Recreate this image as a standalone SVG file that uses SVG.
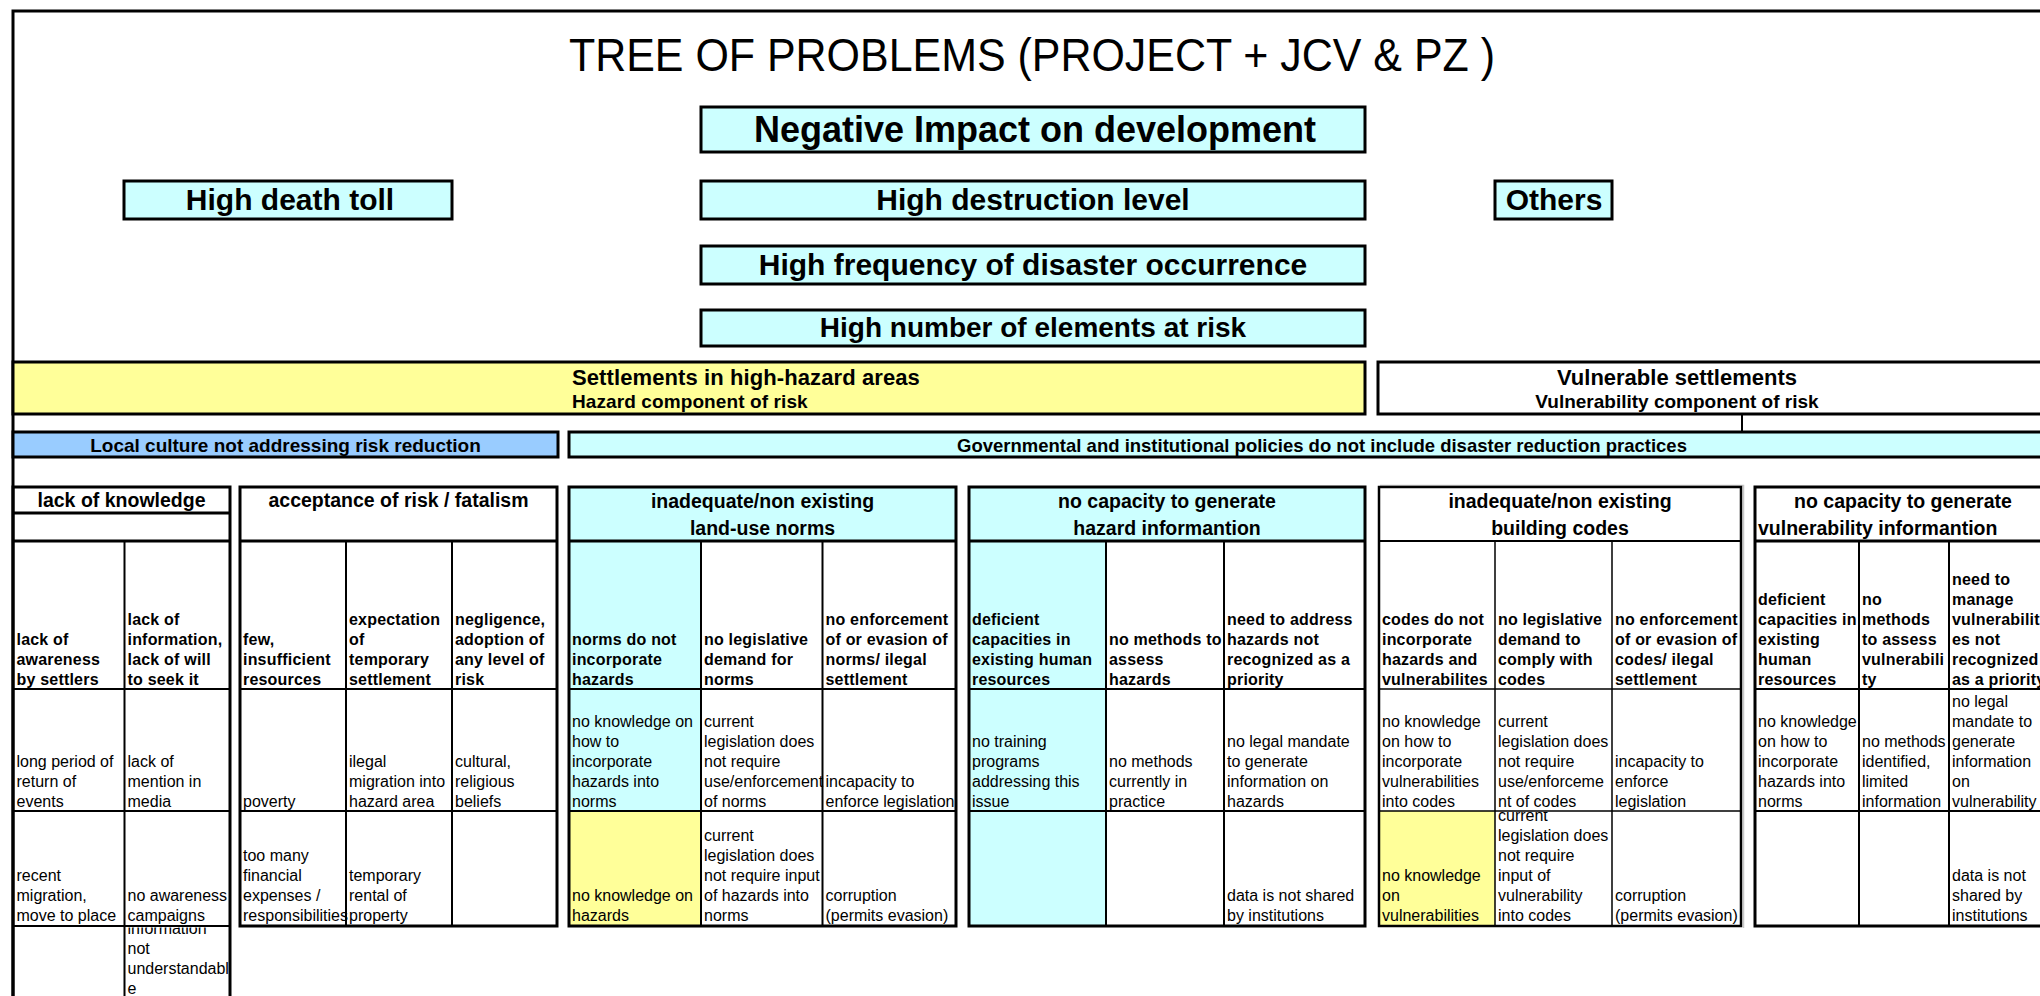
<svg xmlns="http://www.w3.org/2000/svg" width="2040" height="996" viewBox="0 0 2040 996">
<defs>
<style>
text{font-family:"Liberation Sans",Arial,sans-serif;fill:#000}
.box{stroke:#000;stroke-width:3}
.cy{fill:#CCFFFF}.ye{fill:#FFFF99}.bl{fill:#99CCFF}.wh{fill:#FFFFFF}
.ol{fill:none;stroke:#000;stroke-width:3}
.ln{fill:none;stroke:#000;stroke-width:2}
.lt{fill:none;stroke:#000;stroke-width:1.5}
.title{font-size:46px;font-weight:normal}
.t1{font-size:36px;font-weight:bold;text-anchor:middle}
.t2{font-size:30px;font-weight:bold;text-anchor:middle}
.t3{font-size:28px;font-weight:bold;text-anchor:middle}
.bd1{font-size:22px;font-weight:bold}
.bd2{font-size:19px;font-weight:bold}
.hd{font-size:19.5px;font-weight:bold;text-anchor:middle}
.hds{font-size:19.5px;font-weight:bold;text-anchor:start}
.b{font-size:16px;font-weight:bold;letter-spacing:0.2px}
.r{font-size:16px}
</style>
<clipPath id="clipLk"><rect x="125.5" y="927.5" width="104" height="80"/></clipPath>
<clipPath id="clipBc"><rect x="1496" y="812" width="115" height="113"/></clipPath>
</defs>
<rect x="0" y="0" width="2040" height="996" fill="#FFFFFF"/>

<g id="frame">
<path class="ol" d="M13,1000 V11 H2070"/>
</g>

<g id="title">
<text class="title" x="569" y="71" textLength="926" lengthAdjust="spacingAndGlyphs">TREE OF PROBLEMS (PROJECT + JCV &amp; PZ )</text>
</g>

<g id="n-negative-impact">
<rect class="box cy" x="701" y="107" width="664" height="45"/>
<text class="t1" x="1035" y="142">Negative Impact on development</text>
</g>
<g id="n-death-toll">
<rect class="box cy" x="124" y="181" width="328" height="38"/>
<text class="t2" x="290" y="210">High death toll</text>
</g>
<g id="n-destruction">
<rect class="box cy" x="701" y="181" width="664" height="38"/>
<text class="t2" x="1033" y="210">High destruction level</text>
</g>
<g id="n-others">
<rect class="box cy" x="1495" y="181" width="117" height="38"/>
<text class="t2" x="1554" y="210">Others</text>
</g>
<g id="n-frequency">
<rect class="box cy" x="701" y="246" width="664" height="38"/>
<text class="t2" x="1033" y="275">High frequency of disaster occurrence</text>
</g>
<g id="n-elements">
<rect class="box cy" x="701" y="310" width="664" height="36"/>
<text class="t3" x="1033" y="337">High number of elements at risk</text>
</g>

<g id="n-hazard-areas">
<rect class="box ye" x="13" y="362" width="1352" height="52"/>
<text class="bd1" x="572" y="385" letter-spacing="0.1">Settlements in high-hazard areas</text>
<text class="bd2" x="572" y="408" letter-spacing="0.1">Hazard component of risk</text>
</g>
<g id="n-vulnerable">
<rect class="box wh" x="1378" y="362" width="720" height="52"/>
<text class="bd1" x="1677" y="385" text-anchor="middle">Vulnerable settlements</text>
<text class="bd2" x="1677" y="408" text-anchor="middle">Vulnerability component of risk</text>
</g>

<g id="connectors">
<line x1="1742" y1="414" x2="1742" y2="432" stroke="#000" stroke-width="2"/>
</g>

<g id="n-local-culture">
<rect class="box bl" x="13" y="432" width="545" height="25"/>
<text class="hd" style="font-size:19px" x="285.5" y="452">Local culture not addressing risk reduction</text>
</g>
<g id="n-governmental">
<rect class="box cy" x="569" y="432" width="1500" height="25"/>
<text class="hd" style="font-size:18.5px" x="1322" y="452">Governmental and institutional policies do not include disaster reduction practices</text>
</g>

<!-- lack of knowledge -->
<g id="n-lack-knowledge">
<path class="ln" d="M124.5,541 V1000 M13,689 H230 M13,811 H230 M13,926 H230"/>
<path class="ol" d="M13,513 H230 M13,541 H230"/>
<path class="ol" d="M13,1000 V487 H230 V1000"/>
<text class="hd" x="121.5" y="507">lack of knowledge</text>
<text class="b" x="16.5" y="645">lack of</text><text class="b" x="16.5" y="665">awareness</text><text class="b" x="16.5" y="685">by settlers</text>
<text class="b" x="127.5" y="625">lack of</text><text class="b" x="127.5" y="645">information,</text><text class="b" x="127.5" y="665">lack of will</text><text class="b" x="127.5" y="685">to seek it</text>
<text class="r" x="16.5" y="767">long period of</text><text class="r" x="16.5" y="787">return of</text><text class="r" x="16.5" y="807">events</text>
<text class="r" x="127.5" y="767">lack of</text><text class="r" x="127.5" y="787">mention in</text><text class="r" x="127.5" y="807">media</text>
<text class="r" x="16.5" y="881">recent</text><text class="r" x="16.5" y="901">migration,</text><text class="r" x="16.5" y="921">move to place</text>
<text class="r" x="127.5" y="901">no awareness</text><text class="r" x="127.5" y="921">campaigns</text>
<g clip-path="url(#clipLk)">
<text class="r" x="127.5" y="934">information</text><text class="r" x="127.5" y="954">not</text><text class="r" x="127.5" y="974">understandabl</text><text class="r" x="127.5" y="994">e</text>
</g>
</g>

<!-- acceptance of risk -->
<g id="n-acceptance">
<path class="ln" d="M346,541 V926 M452,541 V926 M240,689 H557 M240,811 H557"/>
<path class="ol" d="M240,541 H557"/>
<rect class="ol" x="240" y="487" width="317" height="439"/>
<text class="hd" x="398.5" y="507">acceptance of risk / fatalism</text>
<text class="b" x="243" y="645">few,</text><text class="b" x="243" y="665">insufficient</text><text class="b" x="243" y="685">resources</text>
<text class="b" x="349" y="625">expectation</text><text class="b" x="349" y="645">of</text><text class="b" x="349" y="665">temporary</text><text class="b" x="349" y="685">settlement</text>
<text class="b" x="455" y="625">negligence,</text><text class="b" x="455" y="645">adoption of</text><text class="b" x="455" y="665">any level of</text><text class="b" x="455" y="685">risk</text>
<text class="r" x="243" y="807">poverty</text>
<text class="r" x="349" y="767">ilegal</text><text class="r" x="349" y="787">migration into</text><text class="r" x="349" y="807">hazard area</text>
<text class="r" x="455" y="767">cultural,</text><text class="r" x="455" y="787">religious</text><text class="r" x="455" y="807">beliefs</text>
<text class="r" x="243" y="861">too many</text><text class="r" x="243" y="881">financial</text><text class="r" x="243" y="901">expenses /</text><text class="r" x="243" y="921">responsibilities</text>
<text class="r" x="349" y="881">temporary</text><text class="r" x="349" y="901">rental of</text><text class="r" x="349" y="921">property</text>
</g>

<!-- land-use norms -->
<g id="n-land-use">
<rect class="cy" x="569" y="487" width="387" height="54"/>
<rect class="cy" x="569" y="541" width="132" height="270"/>
<rect class="ye" x="569" y="811" width="132" height="115"/>
<path class="ln" d="M701,541 V926 M822.5,541 V926 M569,689 H956 M569,811 H956"/>
<path class="ol" d="M569,541 H956"/>
<rect class="ol" x="569" y="487" width="387" height="439"/>
<text class="hd" x="762.5" y="508">inadequate/non existing</text>
<text class="hd" x="762.5" y="535">land-use norms</text>
<text class="b" x="572" y="645">norms do not</text><text class="b" x="572" y="665">incorporate</text><text class="b" x="572" y="685">hazards</text>
<text class="b" x="704" y="645">no legislative</text><text class="b" x="704" y="665">demand for</text><text class="b" x="704" y="685">norms</text>
<text class="b" x="825.5" y="625">no enforcement</text><text class="b" x="825.5" y="645">of or evasion of</text><text class="b" x="825.5" y="665">norms/ ilegal</text><text class="b" x="825.5" y="685">settlement</text>
<text class="r" x="572" y="727">no knowledge on</text><text class="r" x="572" y="747">how to</text><text class="r" x="572" y="767">incorporate</text><text class="r" x="572" y="787">hazards into</text><text class="r" x="572" y="807">norms</text>
<text class="r" x="704" y="727">current</text><text class="r" x="704" y="747">legislation does</text><text class="r" x="704" y="767">not require</text><text class="r" x="704" y="787">use/enforcement</text><text class="r" x="704" y="807">of norms</text>
<text class="r" x="825.5" y="787">incapacity to</text><text class="r" x="825.5" y="807">enforce legislation</text>
<text class="r" x="572" y="901">no knowledge on</text><text class="r" x="572" y="921">hazards</text>
<text class="r" x="704" y="841">current</text><text class="r" x="704" y="861">legislation does</text><text class="r" x="704" y="881">not require input</text><text class="r" x="704" y="901">of hazards into</text><text class="r" x="704" y="921">norms</text>
<text class="r" x="825.5" y="901">corruption</text><text class="r" x="825.5" y="921">(permits evasion)</text>
</g>

<!-- hazard information -->
<g id="n-hazard-info">
<rect class="cy" x="969" y="487" width="396" height="54"/>
<rect class="cy" x="969" y="541" width="137" height="385"/>
<path class="ln" d="M1106,541 V926 M1224,541 V926 M969,689 H1365 M969,811 H1365"/>
<path class="ol" d="M969,541 H1365"/>
<rect class="ol" x="969" y="487" width="396" height="439"/>
<text class="hd" x="1167" y="508">no capacity to generate</text>
<text class="hd" x="1167" y="535">hazard informantion</text>
<text class="b" x="972" y="625">deficient</text><text class="b" x="972" y="645">capacities in</text><text class="b" x="972" y="665">existing human</text><text class="b" x="972" y="685">resources</text>
<text class="b" x="1109" y="645">no methods to</text><text class="b" x="1109" y="665">assess</text><text class="b" x="1109" y="685">hazards</text>
<text class="b" x="1227" y="625">need to address</text><text class="b" x="1227" y="645">hazards not</text><text class="b" x="1227" y="665">recognized as a</text><text class="b" x="1227" y="685">priority</text>
<text class="r" x="972" y="747">no training</text><text class="r" x="972" y="767">programs</text><text class="r" x="972" y="787">addressing this</text><text class="r" x="972" y="807">issue</text>
<text class="r" x="1109" y="767">no methods</text><text class="r" x="1109" y="787">currently in</text><text class="r" x="1109" y="807">practice</text>
<text class="r" x="1227" y="747">no legal mandate</text><text class="r" x="1227" y="767">to generate</text><text class="r" x="1227" y="787">information on</text><text class="r" x="1227" y="807">hazards</text>
<text class="r" x="1227" y="901">data is not shared</text><text class="r" x="1227" y="921">by institutions</text>
</g>

<!-- building codes -->
<g id="n-building-codes">
<rect class="ye" x="1379" y="811" width="116" height="115"/>
<path d="M1380,485.5 H1743.5 V928" fill="none" stroke="#C8C8C8" stroke-width="1.5"/>
<path class="lt" d="M1495,541 V926 M1612,541 V926 M1379,689 H1741 M1379,811 H1741"/>
<path class="ln" d="M1379,541 H1741"/>
<rect fill="none" stroke="#000" stroke-width="2.5" x="1379" y="487" width="362" height="439"/>
<text class="hd" x="1560" y="508">inadequate/non existing</text>
<text class="hd" x="1560" y="535">building codes</text>
<text class="b" x="1382" y="625">codes do not</text><text class="b" x="1382" y="645">incorporate</text><text class="b" x="1382" y="665">hazards and</text><text class="b" x="1382" y="685">vulnerabilites</text>
<text class="b" x="1498" y="625">no legislative</text><text class="b" x="1498" y="645">demand to</text><text class="b" x="1498" y="665">comply with</text><text class="b" x="1498" y="685">codes</text>
<text class="b" x="1615" y="625">no enforcement</text><text class="b" x="1615" y="645">of or evasion of</text><text class="b" x="1615" y="665">codes/ ilegal</text><text class="b" x="1615" y="685">settlement</text>
<text class="r" x="1382" y="727">no knowledge</text><text class="r" x="1382" y="747">on how to</text><text class="r" x="1382" y="767">incorporate</text><text class="r" x="1382" y="787">vulnerabilities</text><text class="r" x="1382" y="807">into codes</text>
<text class="r" x="1498" y="727">current</text><text class="r" x="1498" y="747">legislation does</text><text class="r" x="1498" y="767">not require</text><text class="r" x="1498" y="787">use/enforceme</text><text class="r" x="1498" y="807">nt of codes</text>
<text class="r" x="1615" y="767">incapacity to</text><text class="r" x="1615" y="787">enforce</text><text class="r" x="1615" y="807">legislation</text>
<text class="r" x="1382" y="881">no knowledge</text><text class="r" x="1382" y="901">on</text><text class="r" x="1382" y="921">vulnerabilities</text>
<g clip-path="url(#clipBc)">
<text class="r" x="1498" y="821">current</text><text class="r" x="1498" y="841">legislation does</text><text class="r" x="1498" y="861">not require</text><text class="r" x="1498" y="881">input of</text><text class="r" x="1498" y="901">vulnerability</text><text class="r" x="1498" y="921">into codes</text>
</g>
<text class="r" x="1615" y="901">corruption</text><text class="r" x="1615" y="921">(permits evasion)</text>
</g>

<!-- vulnerability information -->
<g id="n-vulnerability-info">
<path class="ln" d="M1859,541 V926 M1949,541 V926 M1755,689 H2070 M1755,811 H2070"/>
<path class="ol" d="M1755,541 H2070"/>
<rect class="ol" x="1755" y="487" width="310" height="439"/>
<text class="hd" x="1903" y="508">no capacity to generate</text>
<text class="hds" x="1758" y="535">vulnerability informantion</text>
<text class="b" x="1758" y="605">deficient</text><text class="b" x="1758" y="625">capacities in</text><text class="b" x="1758" y="645">existing</text><text class="b" x="1758" y="665">human</text><text class="b" x="1758" y="685">resources</text>
<text class="b" x="1862" y="605">no</text><text class="b" x="1862" y="625">methods</text><text class="b" x="1862" y="645">to assess</text><text class="b" x="1862" y="665">vulnerabili</text><text class="b" x="1862" y="685">ty</text>
<text class="b" x="1952" y="585">need to</text><text class="b" x="1952" y="605">manage</text><text class="b" x="1952" y="625">vulnerabiliti</text><text class="b" x="1952" y="645">es not</text><text class="b" x="1952" y="665">recognized</text><text class="b" x="1952" y="685">as a priority</text>
<text class="r" x="1758" y="727">no knowledge</text><text class="r" x="1758" y="747">on how to</text><text class="r" x="1758" y="767">incorporate</text><text class="r" x="1758" y="787">hazards into</text><text class="r" x="1758" y="807">norms</text>
<text class="r" x="1862" y="747">no methods</text><text class="r" x="1862" y="767">identified,</text><text class="r" x="1862" y="787">limited</text><text class="r" x="1862" y="807">information</text>
<text class="r" x="1952" y="707">no legal</text><text class="r" x="1952" y="727">mandate to</text><text class="r" x="1952" y="747">generate</text><text class="r" x="1952" y="767">information</text><text class="r" x="1952" y="787">on</text><text class="r" x="1952" y="807">vulnerability</text>
<text class="r" x="1952" y="881">data is not</text><text class="r" x="1952" y="901">shared by</text><text class="r" x="1952" y="921">institutions</text>
</g>
</svg>
